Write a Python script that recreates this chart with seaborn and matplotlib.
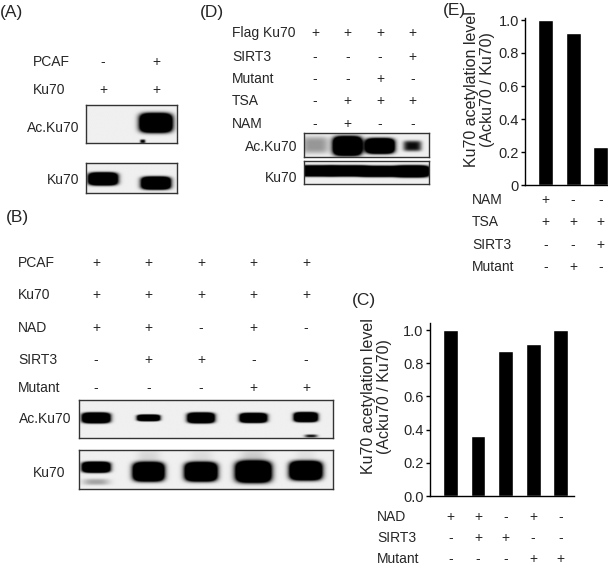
import numpy as np
import pandas as pd
import matplotlib
matplotlib.use("Agg")
import matplotlib.pyplot as plt
import seaborn as sns
from matplotlib.transforms import blended_transform_factory

# ---------------- data ----------------
A_rows = ["PCAF", "Ku70"]
A_signs = [["-", "+"], ["+", "+"]]
A_ac = [0.0, 3.0]          # band intensity per lane (Ac.Ku70)
A_ku = [3.0, 3.0]          # band intensity per lane (Ku70)

B_rows = ["PCAF", "Ku70", "NAD", "SIRT3", "Mutant"]
B_signs = [["+", "+", "+", "+", "+"],
           ["+", "+", "+", "+", "+"],
           ["+", "+", "-", "+", "-"],
           ["-", "+", "+", "-", "-"],
           ["-", "-", "-", "+", "+"]]
B_ac = [3.0, 3.0, 3.0, 3.0, 3.0]
B_ku = [3.0, 3.0, 3.0, 3.0, 3.0]

C_values = [1.0, 0.36, 0.875, 0.915, 1.0]
C_rows = ["NAD", "SIRT3", "Mutant"]
C_signs = [["+", "+", "-", "+", "-"],
           ["-", "+", "+", "-", "-"],
           ["-", "-", "-", "+", "+"]]

D_rows = ["Flag Ku70", "SIRT3", "Mutant", "TSA", "NAM"]
D_signs = [["+", "+", "+", "+"],
           ["-", "-", "-", "+"],
           ["-", "-", "+", "-"],
           ["-", "+", "+", "+"],
           ["-", "+", "-", "-"]]
D_ac = [0.35, 3.0, 3.0, 0.9]
D_ku = [3.0, 3.0, 3.0, 3.0]

E_values = [1.0, 0.92, 0.23]
E_rows = ["NAM", "TSA", "SIRT3", "Mutant"]
E_signs = [["+", "-", "-"],
           ["+", "+", "+"],
           ["-", "-", "+"],
           ["-", "+", "-"]]

YLABEL = "Ku70 acetylation level\n(Acku70 / Ku70)"

# ---------------- style ----------------
sns.set_style("ticks")
plt.rcParams["font.family"] = ["Liberation Sans", "DejaVu Sans"]
plt.rcParams["axes.linewidth"] = 1.0

W, H = 608, 565
fig = plt.figure(figsize=(W / 100, H / 100), dpi=100)
FS = 10


def add_ax_px(x0, y0, x1, y1):
    return fig.add_axes([x0 / W, 1 - y1 / H, (x1 - x0) / W, (y1 - y0) / H])


def fy(py):
    return 1 - py / H


def blot(box, lane0, spacing, intens, hw, hh, yc, extra=()):
    x0, y0, x1, y1 = box
    ax = add_ax_px(x0, y0, x1, y1)
    xl = ((x0 - lane0) / spacing, (x1 - lane0) / spacing)
    xs = np.linspace(xl[0], xl[1], 600)
    ys = np.linspace(0, 1, 140)
    X, Y = np.meshgrid(xs, ys)
    img = np.zeros_like(X)
    for i, a in enumerate(intens):
        r = np.abs((X - i) / hw[i]) ** 4 + np.abs((Y - yc[i]) / hh[i]) ** 4
        img += a * np.exp(-r)
    for (ln, y, w, h, a) in extra:
        r = np.abs((X - ln) / w) ** 3 + np.abs((Y - y) / h) ** 3
        img += a * np.exp(-r)
    img = np.clip(img + 0.06, 0, 1)
    ax.imshow(img, cmap="gray_r", vmin=0, vmax=1, extent=(xl[0], xl[1], 0, 1),
              origin="lower", aspect="auto", interpolation="bilinear")
    ax.set_xlim(xl)
    ax.set_ylim(0, 1)
    ax.set_xticks([])
    ax.set_yticks([])
    for s in ax.spines.values():
        s.set_linewidth(1.0)
        s.set_color("#333333")
    return ax


def sign_rows(ax, labels, signs, ys, label_x):
    tr = blended_transform_factory(ax.transData, fig.transFigure)
    for lab, row, py in zip(labels, signs, ys):
        fig.text(label_x / W, fy(py), lab, ha="left", va="center", fontsize=FS)
        for i, s in enumerate(row):
            ax.text(i, fy(py), s, transform=tr, ha="center", va="center",
                    fontsize=FS, clip_on=False)


def panel_label(px, py, s):
    fig.text(px / W, fy(py), s, ha="left", va="center", fontsize=12.5)


# ---------------- (A) ----------------
panel_label(0, 12, "(A)")
axA1 = blot((86, 105, 177, 143), 103, 53, A_ac,
            hw=[0.28, 0.29], hh=[0.24, 0.24], yc=[0.53, 0.53],
            extra=[(0.75, 0.04, 0.05, 0.05, 1.0)])
axA2 = blot((86, 163, 177, 193), 103, 53, A_ku,
            hw=[0.26, 0.26], hh=[0.2, 0.2], yc=[0.47, 0.33])
sign_rows(axA1, A_rows, A_signs, [62, 90], 33)
fig.text(79 / W, fy(128), "Ac.Ku70", ha="right", va="center", fontsize=FS)
fig.text(79 / W, fy(180), "Ku70", ha="right", va="center", fontsize=FS)

# ---------------- (B) ----------------
panel_label(6, 217, "(B)")
axB1 = blot((79, 400, 333, 438), 96, 52.5, B_ac,
            hw=[0.25, 0.2, 0.24, 0.24, 0.21],
            hh=[0.13, 0.08, 0.13, 0.12, 0.12],
            yc=[0.53, 0.53, 0.53, 0.53, 0.55],
            extra=[(4.1, 0.05, 0.12, 0.04, 0.9)])
axB2 = blot((79, 450, 333, 489), 96, 52.5, B_ku,
            hw=[0.25, 0.28, 0.29, 0.32, 0.29],
            hh=[0.13, 0.23, 0.23, 0.26, 0.23],
            yc=[0.56, 0.44, 0.44, 0.44, 0.47],
            extra=[(0, 0.18, 0.25, 0.08, 0.3),
                   (1, 0.78, 0.22, 0.25, 0.1),
                   (2, 0.78, 0.22, 0.25, 0.08),
                   (3, 0.78, 0.25, 0.25, 0.15),
                   (4, 0.78, 0.2, 0.25, 0.06)])
sign_rows(axB1, B_rows, B_signs, [263, 295, 328, 360, 388], 18)
fig.text(19 / W, fy(419), "Ac.Ku70", ha="left", va="center", fontsize=FS)
fig.text(65 / W, fy(473), "Ku70", ha="right", va="center", fontsize=FS)

# ---------------- (D) ----------------
panel_label(200, 12, "(D)")
axD1 = blot((304, 133, 429, 157), 315, 32.5, D_ac,
            hw=[0.42, 0.42, 0.42, 0.28], hh=[0.35, 0.38, 0.3, 0.22],
            yc=[0.5, 0.46, 0.46, 0.46])
axD2 = blot((304, 161, 429, 184), 315, 32.5, D_ku,
            hw=[0.58, 0.58, 0.58, 0.5], hh=[0.22, 0.22, 0.22, 0.24],
            yc=[0.57, 0.57, 0.55, 0.55])
sign_rows(axD1, D_rows, D_signs, [33, 57, 79, 101, 124], 232)
fig.text(297 / W, fy(147), "Ac.Ku70", ha="right", va="center", fontsize=FS)
fig.text(297 / W, fy(178), "Ku70", ha="right", va="center", fontsize=FS)


# ---------------- bar charts ----------------
def bar_panel(box_px, values, ytop, xlim, ticklabels, label_xy):
    ax = add_ax_px(*box_px)
    df = pd.DataFrame({"cond": [str(i) for i in range(len(values))],
                       "val": values})
    sns.barplot(data=df, x="cond", y="val", color="black", saturation=1,
                width=0.545, ax=ax)
    ax.set_xlim(*xlim)
    ax.set_ylim(0, ytop)
    ax.set_yticks([0, 0.2, 0.4, 0.6, 0.8, 1.0])
    ax.set_yticklabels(ticklabels, fontsize=10.5)
    ax.tick_params(axis="y", length=3, width=1, pad=1.5, color="black")
    ax.tick_params(axis="x", bottom=False, labelbottom=False)
    ax.set_xlabel("")
    ax.set_ylabel(YLABEL, fontsize=11.5, linespacing=1.1)
    ax.yaxis.set_label_coords(*label_xy)
    sns.despine(ax=ax)
    for s in ("left", "bottom"):
        ax.spines[s].set_color("black")
        ax.spines[s].set_linewidth(1.0)
    return ax


axC = bar_panel((430, 496 - 1.04 * 166, 574, 496), C_values, 1.04,
                (-0.745, 4.49),
                ["0.0", "0.2", "0.4", "0.6", "0.8", "1.0"], (-0.264, 0.578))
panel_label(352, 300, "(C)")
sign_rows(axC, C_rows, C_signs, [517, 538, 559], 377)

axE = bar_panel((525, 185 - 1.01 * 165, 608, 185), E_values, 1.01,
                (-0.745, 2.27),
                ["0", "0.2", "0.4", "0.6", "0.8", "1.0"], (-0.36, 0.573))
panel_label(443, 10, "(E)")
sign_rows(axE, E_rows, E_signs, [200, 222, 245, 267], 472)

fig.savefig("out.png", dpi=100)
